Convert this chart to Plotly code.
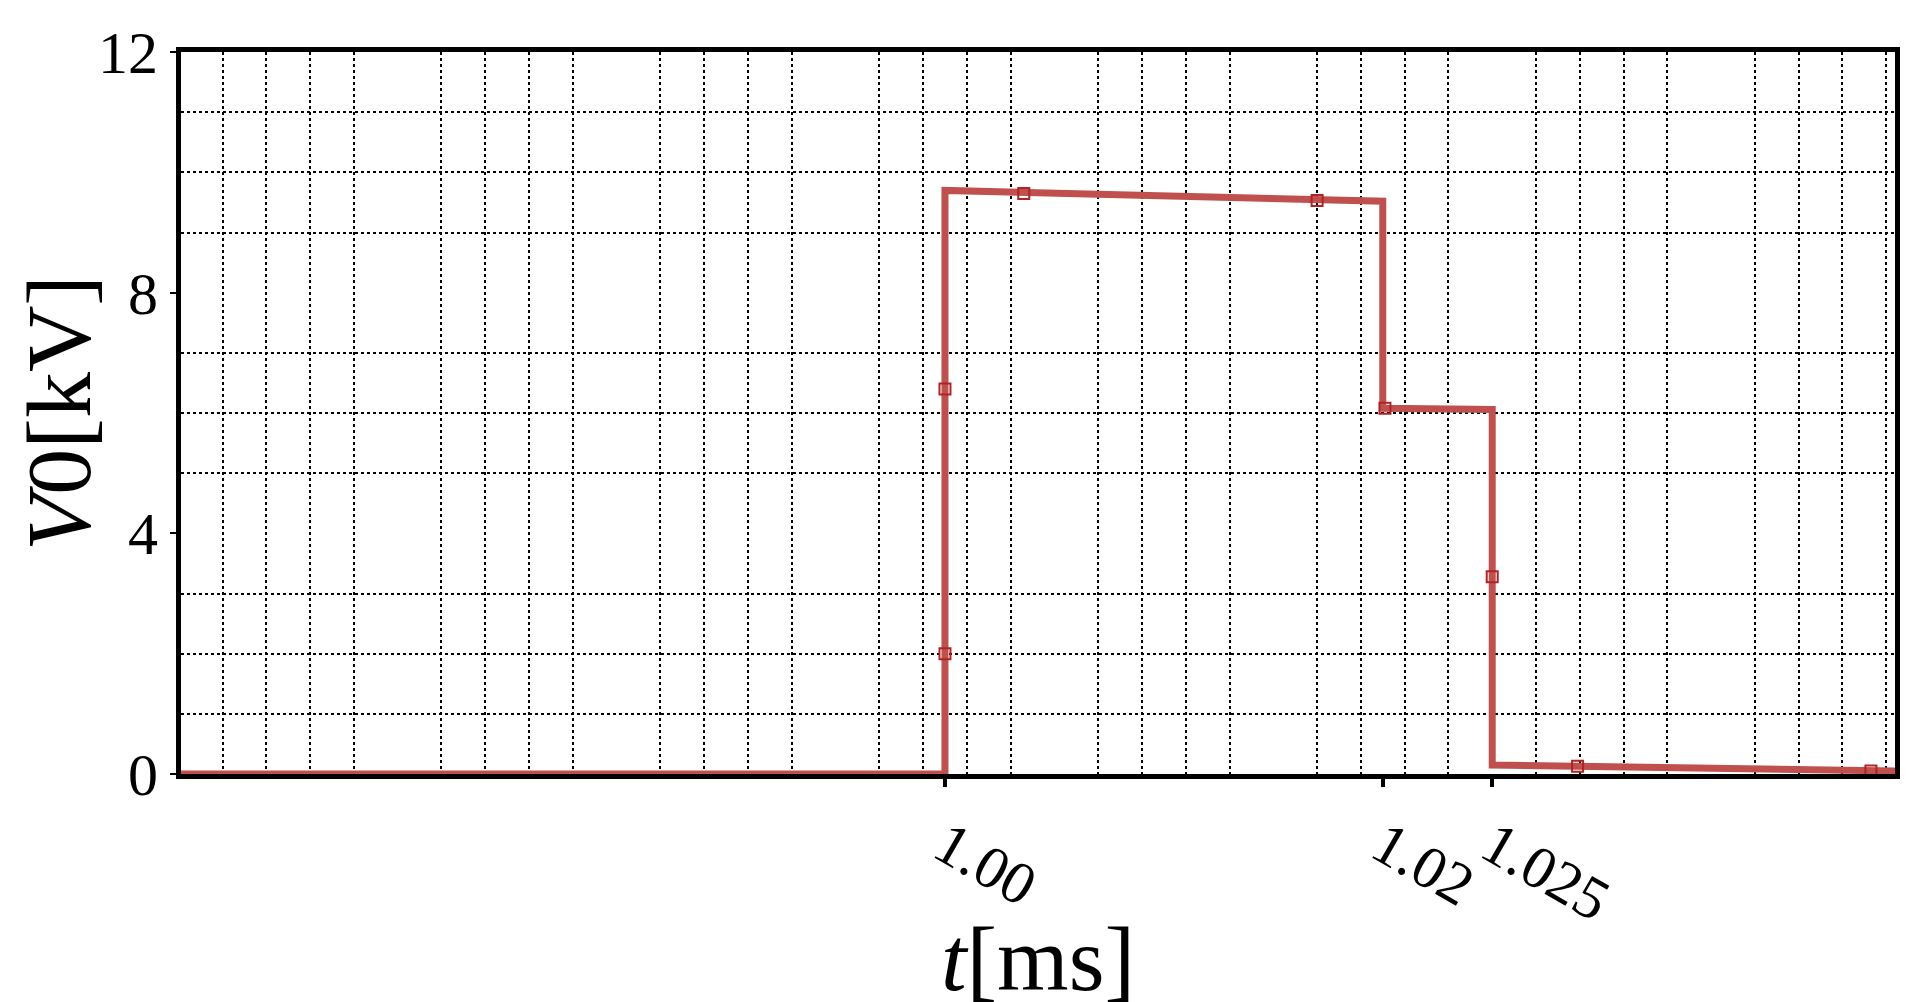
import plotly.graph_objects as go

# step curve
t_line = [0.965, 1.000, 1.000, 1.020, 1.020, 1.025, 1.025, 1.0434]
v_line = [0.0, 0.0, 9.70, 9.52, 6.08, 6.06, 0.15, 0.05]
# sample markers
t_mark = [1.000, 1.000, 1.0036, 1.0170, 1.0201, 1.0250, 1.0289, 1.0423]
v_mark = [2.0, 6.4, 9.65, 9.53, 6.08, 3.28, 0.13, 0.05]
# ticks
x_tick_vals = [1.00, 1.02, 1.025]
x_tick_text = ["1.00", "1.02", "1.025"]
y_tick_vals = [0, 4, 8, 12]
y_tick_text = ["0", "4", "8", "12"]
# grid positions
x_grid = [0.967, 0.969, 0.971, 0.973, 0.977, 0.979, 0.981, 0.983, 0.987, 0.989, 0.991, 0.993,
          0.997, 0.999, 1.001, 1.003, 1.007, 1.009, 1.011, 1.013, 1.017, 1.019, 1.021, 1.023,
          1.027, 1.029, 1.031, 1.033, 1.037, 1.039, 1.041, 1.043]
y_grid = [1, 2, 3, 5, 6, 7, 9, 10, 11]

red = "#c0504d"
fig = go.Figure()
fig.add_trace(go.Scatter(x=t_line, y=v_line, mode="lines",
                         line=dict(color=red, width=7), showlegend=False))
fig.add_trace(go.Scatter(x=t_mark, y=v_mark, mode="markers",
                         marker=dict(symbol="square-open", size=11, color="#b22222", line=dict(width=2)),
                         showlegend=False))
fig.add_trace(go.Scatter(x=[0.965], y=[0], xaxis="x2", yaxis="y2", mode="markers",
                         marker=dict(opacity=0), showlegend=False, hoverinfo="skip"))

xr = [0.9651, 1.0434]
yr = [0, 12]
font = "Liberation Serif, Times New Roman, serif"
fig.update_layout(
    width=1919, height=1002,
    margin=dict(l=173, r=32, t=37, b=180),
    plot_bgcolor="white", paper_bgcolor="white",
    font=dict(family=font, color="black", size=60),
    xaxis=dict(range=xr, tickvals=x_tick_vals, ticktext=x_tick_text, showgrid=False,
               zeroline=False, showline=True, linecolor="black", linewidth=5, mirror=True,
               ticks="outside", ticklen=8, tickwidth=4, tickcolor="black",
               title=dict(text="<i>t</i>[ms]", font=dict(size=92), standoff=0)),
    yaxis=dict(range=yr, tickvals=y_tick_vals, ticktext=y_tick_text, showgrid=False,
               zeroline=False, showline=True, linecolor="black", linewidth=5, mirror=True,
               ticks="outside", ticklen=6, tickwidth=2, tickcolor="black",
               title=dict(text="<i>V</i>0[kV]", font=dict(size=92), standoff=5)),
    xaxis2=dict(range=xr, overlaying="x", tickvals=x_grid, showticklabels=False, ticks="",
                showgrid=True, gridcolor="black", griddash="dot", gridwidth=2,
                zeroline=False, layer="below traces"),
    yaxis2=dict(range=yr, overlaying="y", tickvals=y_grid, showticklabels=False, ticks="",
                showgrid=True, gridcolor="black", griddash="dot", gridwidth=2,
                zeroline=False, layer="below traces"),
)
fig.write_html("out.html")
